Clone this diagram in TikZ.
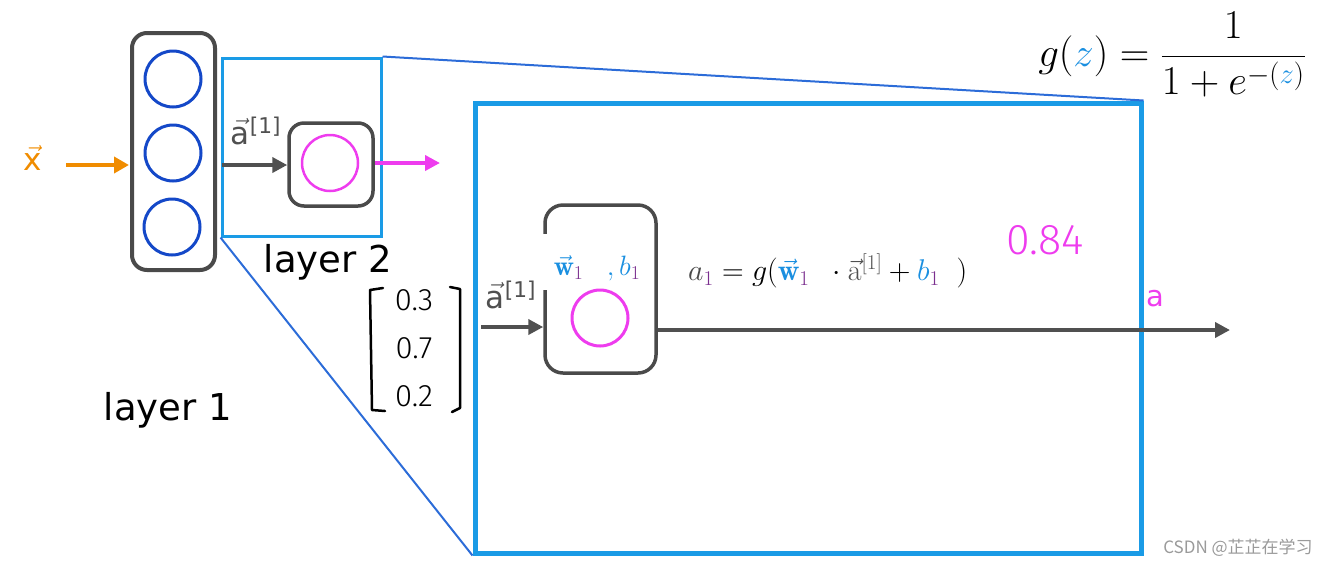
\RequirePackage{fix-cm}
\documentclass[tikz,border=0pt]{standalone}
\usepackage{fontspec}
\setsansfont{DejaVu Sans}
\newfontfamily\cjkfont{Noto Sans CJK SC}
\newfontfamily\handfont{Fira Sans Light}
\usetikzlibrary{arrows.meta}
\definecolor{boxgray}{HTML}{4A4A4A}
\definecolor{arrgray}{HTML}{505050}
\definecolor{nblue}{HTML}{1448C8}
\definecolor{cyanb}{HTML}{1A9BE6}
\definecolor{lineb}{HTML}{2C6CD8}
\definecolor{mag}{HTML}{EE3CEE}
\definecolor{orng}{HTML}{F08C00}
\definecolor{purp}{HTML}{7A2E8E}
\definecolor{wblue}{HTML}{1A8FE0}
\definecolor{wmgray}{HTML}{9A9A9A}
\newcommand\myvec[1]{\ensuremath{\vec{\hbox{#1}}}}
\newcommand\fs[1]{\fontsize{#1}{#1}\selectfont}
\begin{document}
\begin{tikzpicture}[x=1pt,y=-1pt,
  layerbox/.style={draw=boxgray,line width=4pt,rounded corners=15pt,inner sep=0pt},
  unitbl/.style={circle,draw=nblue,line width=3pt,minimum size=56pt,inner sep=0pt},
  unitmg/.style={circle,draw=mag,line width=2.5pt,minimum size=56pt,inner sep=0pt},
  zoombox/.style={draw=cyanb,inner sep=0pt},
  conn/.style={draw=lineb,line width=2pt},
  garrow/.style={draw=arrgray,line width=4pt,-{Triangle[length=15pt,width=15pt]}},
  txt/.style={font=\sffamily\fs{37}},
  vlab/.style={font=\sffamily\fs{31},text=arrgray,inner sep=1pt},
  hand/.style={font=\handfont\fs{31}}]
\useasboundingbox (0,0) rectangle (1337,566);

% zoom boxes and connecting lines
\node[zoombox,line width=3pt,minimum width=159pt,minimum height=178pt] (sm) at (301.5,147) {};
\node[zoombox,line width=5pt,minimum width=666pt,minimum height=450pt] (big) at (808,328) {};
\draw[conn] (sm.north east) -- (big.north east);
\draw[conn] (sm.south west) -- (big.south west);

% layer 1
\node[layerbox,minimum width=83pt,minimum height=237pt] (l1) at (173.5,151.5) {};
\node[unitbl] (c1) at (173,79) {};
\node[unitbl] (c2) at (173,153) {};
\node[unitbl] (c3) at (172,227) {};
\node[txt] (lay1) at (168,410) {layer 1};

% input
\node[font=\sffamily\fs{31},text=orng] (x) at (33,158) {\myvec{x}};
\coordinate (xs) at (66,165);
\coordinate (xe) at (129,165);
\draw[draw=orng,line width=4pt,-{Triangle[length=15pt,width=16pt]}] (xs) -- (xe);

% layer 2 small
\node[layerbox,line width=3.5pt,minimum width=84pt,minimum height=83pt] (n2) at (331,164.5) {};
\node[unitmg] (m2) at (330,163) {};
\coordinate (a1s) at (222,165);
\draw[garrow] (a1s) -- (n2.west |- a1s);
\node[vlab] (a1l) at (256,131) {\myvec{a}\textsuperscript{[1]}};
\coordinate (mo) at (440,163);
\draw[draw=mag,line width=4pt,-{Triangle[length=15pt,width=15pt]}] (n2.east |- mo) -- (mo);
\node[txt] (lay2) at (328,262) {layer 2};

% matrix
\draw[line width=2.5pt,line cap=round,line join=round] (383,288) -- (370,290) -- (372,410) -- (385,411);
\draw[line width=2.5pt,line cap=round,line join=round] (450,287) -- (460,289) -- (460,408) -- (452,412);
\node[hand] (v1) at (414,300) {0.3};
\node[hand] (v2) at (414,348) {0.7};
\node[hand] (v3) at (414,396) {0.2};

% zoomed neuron
\node[layerbox,line width=3.5pt,rounded corners=18pt,minimum width=111pt,minimum height=168pt] (nb) at (600.5,289) {};
\fill[white] (541,234) rectangle (550,290);
\node[unitmg,line width=3pt] (mb) at (600,318) {};
\coordinate (ins) at (481,327);
\draw[garrow] (ins) -- (nb.west |- ins);
\node[vlab] (a1b) at (511,295) {\myvec{a}\textsuperscript{[1]}};
\node[font=\fs{28},inner sep=0pt] (wb) at (597,268) {$\textcolor{wblue}{\vec{\mathbf{w}}}_{\textcolor{purp}{1}}\;\;\;\textcolor{wblue}{,b}_{\textcolor{purp}{1}}$};
\coordinate (outa) at (1230,330);
\draw[garrow,line width=4pt] (nb.east |- outa) -- (outa);

% equation
\node[font=\fs{30},anchor=west,inner sep=0pt] (eq) at (688,271) {$\textcolor{boxgray}{a}_{\textcolor{purp}{1}} = g(\textcolor{wblue}{\vec{\mathbf{w}}}_{\textcolor{purp}{1}}\;\;\cdot\textcolor{arrgray}{\vec{\mathrm{a}}^{[1]}}+\textcolor{wblue}{b}_{\textcolor{purp}{1}}\;\;)$};
\node[font=\handfont\fs{43},text=mag] (v84) at (1045,240) {0.84};
\node[font=\sffamily\fs{29},text=mag] (aout) at (1155,299) {a};

% sigmoid
\node[font=\fs{41}] (gz) at (1172,55) {$g(\textcolor{wblue}{z})=\displaystyle\frac{1}{1+e^{-(\textcolor{wblue}{z})}}$};

% watermark
\node[font=\cjkfont\fs{17},text=wmgray] (wm) at (1238,548) {CSDN @芷芷在学习};
\end{tikzpicture}
\end{document}
